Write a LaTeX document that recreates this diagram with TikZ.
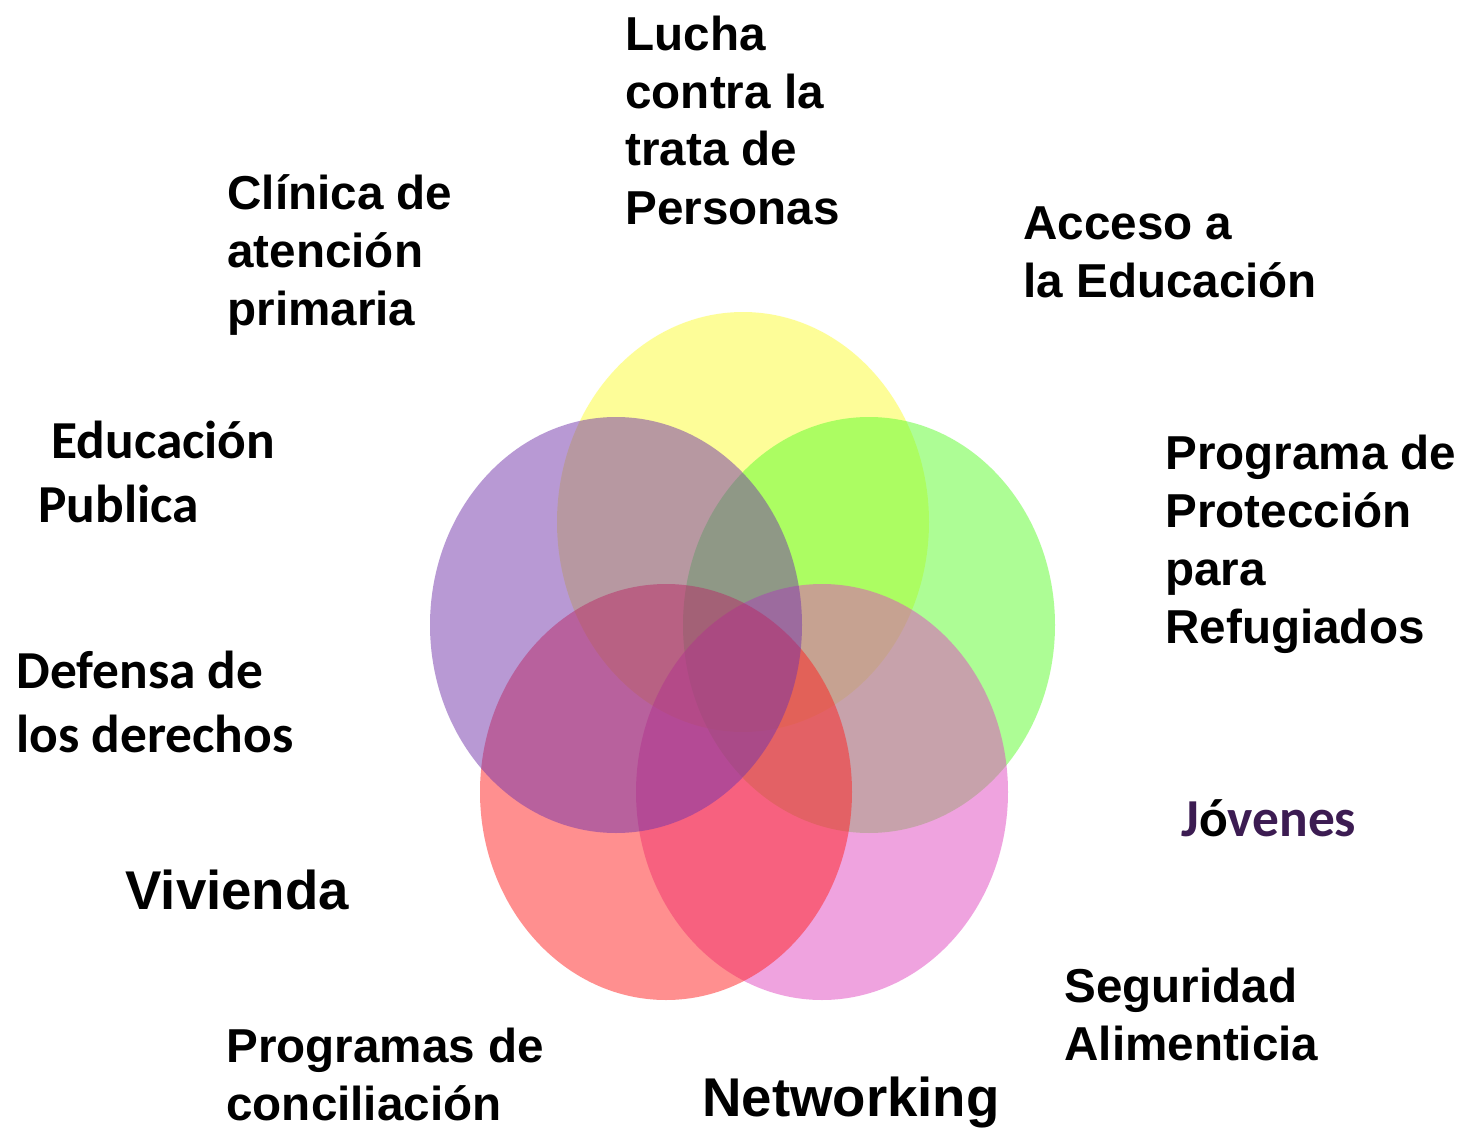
\documentclass[tikz,border=0pt]{standalone}
\usepackage{fontspec}
\usepackage{tikz}
\newfontfamily\arialfont{Liberation Sans}
\newfontfamily\calibfont{Carlito}
\definecolor{venyellow}{RGB}{253,253,51}
\definecolor{vengreen}{RGB}{93,253,45}
\definecolor{venpink}{RGB}{225,73,193}
\definecolor{venred}{RGB}{255,33,33}
\definecolor{venpurple}{RGB}{115,53,171}
\definecolor{jovpurple}{RGB}{60,28,82}

\begin{document}
\begin{tikzpicture}[x=0.5pt,y=-0.5pt,
  venn/.style={fill opacity=.5},
  lbl/.style={anchor=base west,inner sep=0pt,align=left,
    font=\arialfont\bfseries\fontsize{23.8}{29}\selectfont},
  big/.style={lbl,font=\arialfont\bfseries\fontsize{27.3}{32}\selectfont},
  cal/.style={lbl,font=\calibfont\bfseries\fontsize{26.7}{32}\selectfont}]
\useasboundingbox[fill=white] (0,0) rectangle (1468,1129);
% Five overlapping ellipses, back to front
\fill[venn,venyellow] (743,522) ellipse [x radius=186,y radius=210];
\fill[venn,vengreen] (869,625) ellipse [x radius=186,y radius=208];
\fill[venn,venpink] (822,792) ellipse [x radius=186,y radius=208];
\fill[venn,venred] (666,792) ellipse [x radius=186,y radius=208];
\fill[venn,venpurple] (616,625) ellipse [x radius=186,y radius=208];
% Labels round the diagram (placed at the baseline of their last line)
\node[lbl] (lucha) at (625,224) {Lucha\\contra la\\trata de\\Personas};
\node[lbl] (clinica) at (227,325) {Clínica de\\atención\\primaria};
\node[lbl] (acceso) at (1023,297) {Acceso a\\la Educación};
\node[lbl] (refugio) at (1165,643) {Programa de\\Protección\\para\\Refugiados};
\node[cal] (publica) at (38,522) {\hspace*{6.5pt}Educación\\Publica};
\node[cal] (derechos) at (16,752) {Defensa de\\los derechos};
\node[big] (vivienda) at (125,909) {Vivienda};
\node[cal,text=jovpurple] (jovenes) at (1181,836) {J{\color{black}ó}venes};
\node[lbl] (seguridad) at (1064,1060) {Seguridad\\Alimenticia};
\node[lbl] (concilia) at (226,1120) {Programas de\\conciliación};
\node[big] (network) at (702,1116) {Networking};
\end{tikzpicture}
\end{document}
